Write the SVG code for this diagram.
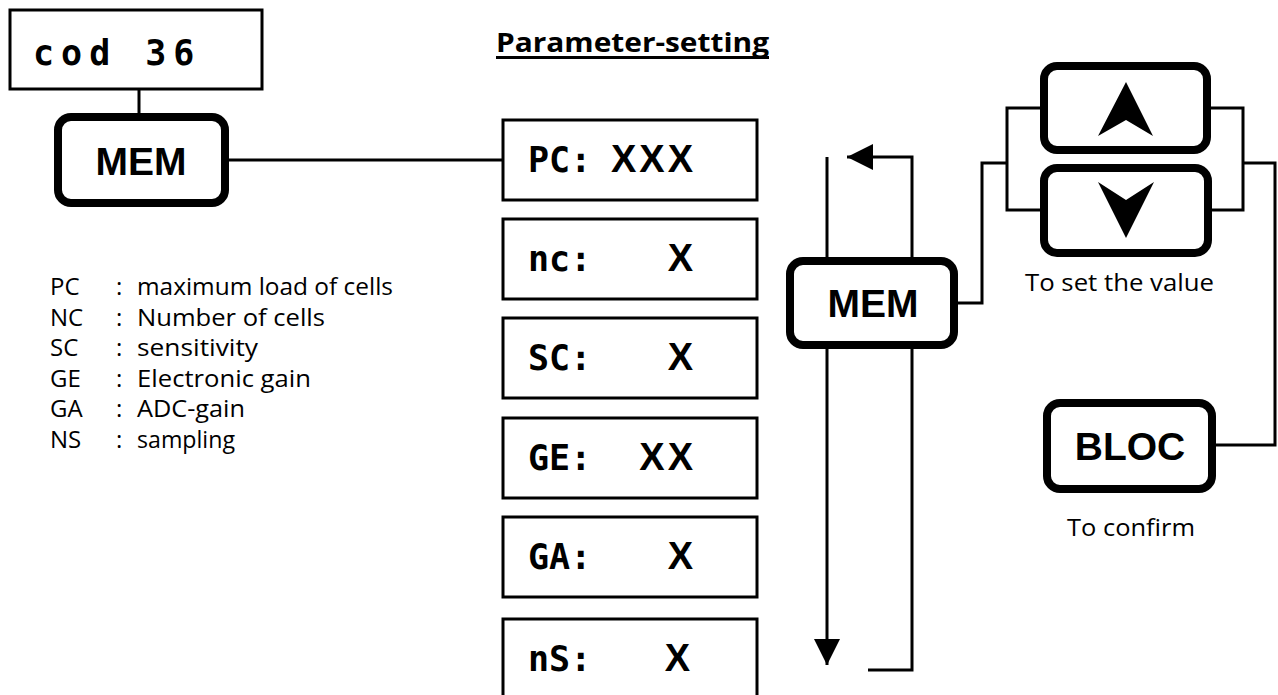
<svg xmlns="http://www.w3.org/2000/svg" width="1278" height="695" viewBox="0 0 1278 695">
<style>
.lcd{fill:#fff;stroke:#000;stroke-width:3}
.key{fill:#fff;stroke:#000;stroke-width:8}
.seg{font-family:"DejaVu Sans Mono","Liberation Mono",monospace;font-weight:bold;font-size:35px;fill:#000}
.val{font-family:"Liberation Sans",Arial,sans-serif;font-weight:bold;font-size:38px;fill:#000;text-anchor:end;letter-spacing:3px}
.keyt{font-family:"Liberation Sans",Arial,sans-serif;font-weight:bold;font-size:39px;fill:#000;text-anchor:middle}
.note{font-family:"Open Sans","DejaVu Sans",sans-serif;font-size:24px;fill:#000}
.leg{font-family:"Open Sans","DejaVu Sans",sans-serif;font-size:24px;fill:#000}
.wire{fill:none;stroke:#000;stroke-width:3}
</style>
<defs>
<marker id="arr" viewBox="0 0 26 26" refX="26" refY="13" markerWidth="26" markerHeight="26" markerUnits="userSpaceOnUse" orient="auto">
<path d="M0,0 L26,13 L0,26 Z" fill="#000"/>
</marker>
</defs>
<rect width="1278" height="695" fill="#fff"/>

<g id="title">
<text x="496" y="52" font-family="'Open Sans','DejaVu Sans',sans-serif" font-weight="bold" font-size="27" textLength="273" lengthAdjust="spacingAndGlyphs">Parameter-setting</text>
<rect x="496" y="56" width="273" height="3" fill="#000"/>
</g>

<g id="connectors">
<path class="wire" d="M139,89 V113"/>
<path class="wire" d="M229,160 H503"/>
<path class="wire" d="M827,157 V257"/>
<path class="wire" d="M827,349 V665" marker-end="url(#arr)"/>
<path class="wire" d="M912,257 V157 H847" marker-end="url(#arr)"/>
<path class="wire" d="M912,349 V670 H868"/>
<path class="wire" d="M958,303 H982 V163 H1007"/>
<path class="wire" d="M1040,108 H1007 V210 H1040"/>
<path class="wire" d="M1211,108 H1243 V210 H1211"/>
<path class="wire" d="M1243,163 H1275 V445 H1216"/>
</g>

<g id="cod36">
<rect class="lcd" x="10" y="10" width="252" height="79"/>
<text class="seg" x="33" y="65" font-size="36" letter-spacing="7">cod 36</text>
</g>

<g id="mem1">
<rect class="key" x="58" y="117" width="167" height="86" rx="13"/>
<text class="keyt" x="141" y="175">MEM</text>
</g>

<g id="lcd-pc">
<rect class="lcd" x="503" y="120" width="254" height="80"/>
<text class="seg" x="528" y="172">PC:</text>
<text class="val" x="696" y="172">XXX</text>
</g>
<g id="lcd-nc">
<rect class="lcd" x="503" y="219" width="254" height="80"/>
<text class="seg" x="528" y="271">nc:</text>
<text class="val" x="696" y="271">X</text>
</g>
<g id="lcd-sc">
<rect class="lcd" x="503" y="318" width="254" height="80"/>
<text class="seg" x="528" y="370">SC:</text>
<text class="val" x="696" y="370">X</text>
</g>
<g id="lcd-ge">
<rect class="lcd" x="503" y="418" width="254" height="80"/>
<text class="seg" x="528" y="470">GE:</text>
<text class="val" x="696" y="470">XX</text>
</g>
<g id="lcd-ga">
<rect class="lcd" x="503" y="517" width="254" height="80"/>
<text class="seg" x="528" y="569">GA:</text>
<text class="val" x="696" y="569">X</text>
</g>
<g id="lcd-ns">
<rect class="lcd" x="503" y="619" width="254" height="90"/>
<text class="seg" x="528" y="671">nS:</text>
<text class="val" x="693" y="671">X</text>
</g>

<g id="mem2">
<rect class="key" x="790" y="261" width="164" height="84" rx="13"/>
<text class="keyt" x="873" y="317">MEM</text>
</g>

<g id="key-up">
<rect class="key" x="1044" y="66" width="163" height="84" rx="13"/>
<path d="M1126,82 L1153,136 L1126,120 L1098,136 Z" fill="#000"/>
</g>
<g id="key-down">
<rect class="key" x="1044" y="168" width="164" height="85" rx="13"/>
<path d="M1098,182 L1126,200 L1154,182 L1126,238 Z" fill="#000"/>
</g>
<g id="note-set">
<text class="note" x="1025" y="291" textLength="189" lengthAdjust="spacingAndGlyphs">To set the value</text>
</g>

<g id="bloc">
<rect class="key" x="1047" y="403" width="165" height="86" rx="13"/>
<text class="keyt" x="1130" y="460">BLOC</text>
</g>
<g id="note-confirm">
<text class="note" x="1067" y="536" textLength="128" lengthAdjust="spacingAndGlyphs">To confirm</text>
</g>

<g id="legend">
<text class="leg" x="50" y="295">PC</text><text class="leg" x="116" y="295">:</text><text class="leg" x="137" y="295" textLength="256" lengthAdjust="spacingAndGlyphs">maximum load of cells</text>
<text class="leg" x="50" y="326">NC</text><text class="leg" x="116" y="326">:</text><text class="leg" x="137" y="326" textLength="188" lengthAdjust="spacingAndGlyphs">Number of cells</text>
<text class="leg" x="50" y="356">SC</text><text class="leg" x="116" y="356">:</text><text class="leg" x="137" y="356" textLength="121" lengthAdjust="spacingAndGlyphs">sensitivity</text>
<text class="leg" x="50" y="387">GE</text><text class="leg" x="116" y="387">:</text><text class="leg" x="137" y="387" textLength="174" lengthAdjust="spacingAndGlyphs">Electronic gain</text>
<text class="leg" x="50" y="417">GA</text><text class="leg" x="116" y="417">:</text><text class="leg" x="137" y="417" textLength="108" lengthAdjust="spacingAndGlyphs">ADC-gain</text>
<text class="leg" x="50" y="448">NS</text><text class="leg" x="116" y="448">:</text><text class="leg" x="137" y="448" textLength="98" lengthAdjust="spacingAndGlyphs">sampling</text>
</g>
</svg>
